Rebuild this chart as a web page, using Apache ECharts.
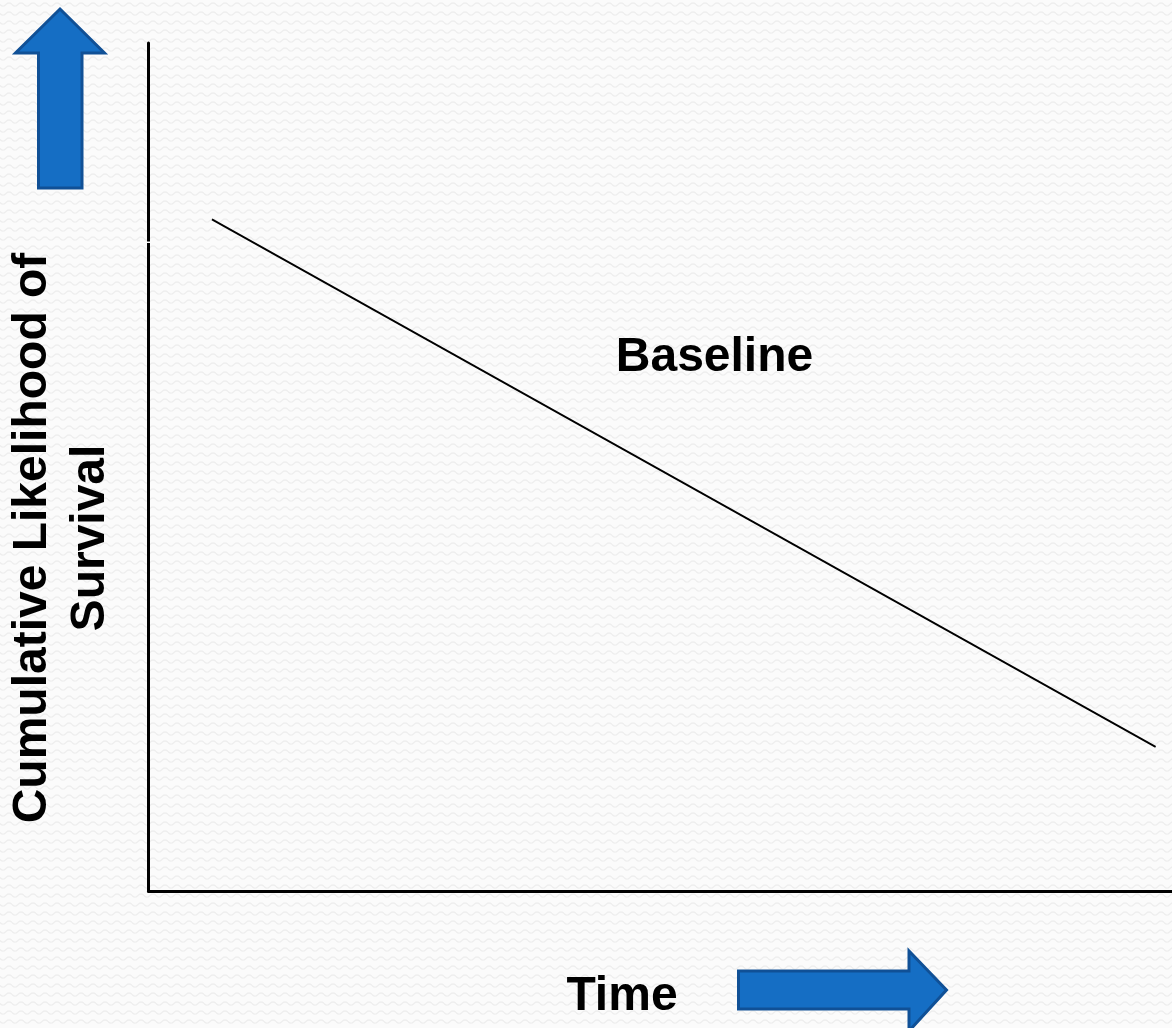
<!DOCTYPE html>
<html>
<head>
<meta charset="utf-8">
<title>Cumulative Likelihood of Survival</title>
<script src="https://cdn.jsdelivr.net/npm/echarts@6/dist/echarts.min.js"></script>
<style>
  html, body { margin: 0; padding: 0; background: #fafafa; }
  #chart { width: 1172px; height: 1028px; }
</style>
</head>
<body>
<div id="chart"></div>
<script>
// data: a straight baseline, start and end point only
var timeValues = [6.2, 98.4];
var survivalValues = [79.2, 17.0];
var seriesName = 'Baseline';
var xTitle = 'Time';
var yTitle = 'Cumulative Likelihood of\nSurvival';

var ARROW_FILL = '#156ec4';
var ARROW_EDGE = '#105096';
var FONT = 'bold 48px "Liberation Sans", Arial, sans-serif';

// light wavy paper texture for the background
function makeTexture() {
  var c = document.createElement('canvas');
  c.width = 12;
  c.height = 9;
  var ctx = c.getContext('2d');
  ctx.fillStyle = '#fbfbfb';
  ctx.fillRect(0, 0, 12, 9);
  ctx.strokeStyle = '#eeeeee';
  ctx.lineWidth = 1.4;
  ctx.beginPath();
  for (var i = 0; i <= 12; i++) {
    var y = 4.5 + 1.6 * Math.sin(i / 12 * Math.PI * 2);
    if (i === 0) ctx.moveTo(i, y); else ctx.lineTo(i, y);
  }
  ctx.stroke();
  return c;
}

var chart = echarts.init(document.getElementById('chart'));

chart.setOption({
  backgroundColor: { image: makeTexture(), repeat: 'repeat' },
  animation: false,
  grid: { left: 148.5, right: 0, top: 43, bottom: 137 },
  xAxis: {
    type: 'value',
    min: 0,
    max: 100,
    axisLine: { show: true, lineStyle: { color: '#000', width: 3 } },
    axisTick: { show: false },
    axisLabel: { show: false },
    splitLine: { show: false }
  },
  yAxis: {
    type: 'value',
    min: 0,
    max: 100,
    axisLine: { show: true, lineStyle: { color: '#000', width: 3 } },
    axisTick: { show: false },
    axisLabel: { show: false },
    splitLine: { show: false }
  },
  series: [
    {
      name: seriesName,
      type: 'line',
      data: timeValues.map(function (t, i) { return [t, survivalValues[i]]; }),
      symbol: 'none',
      lineStyle: { color: '#000', width: 1.8 }
    }
  ],
  graphic: [
    // small break in the y axis
    { type: 'rect', shape: { x: 145, y: 241.5, width: 7, height: 1.5 }, style: { fill: '#fbfbfb' }, z: 100 },
    // up arrow
    {
      type: 'polygon',
      shape: { points: [[60, 9], [104.5, 53], [82, 53], [82, 188], [38.5, 188], [38.5, 53], [15.5, 53]] },
      style: { fill: ARROW_FILL, stroke: ARROW_EDGE, lineWidth: 3, lineJoin: 'miter' }
    },
    // right arrow
    {
      type: 'polygon',
      shape: { points: [[738.5, 971], [909, 971], [909, 951], [946.5, 990], [909, 1031], [909, 1009], [738.5, 1009]] },
      style: { fill: ARROW_FILL, stroke: ARROW_EDGE, lineWidth: 3, lineJoin: 'miter' }
    },
    {
      type: 'text', x: 714.5, y: 358,
      style: { text: seriesName, font: FONT, fill: '#000', align: 'center', verticalAlign: 'middle' }
    },
    {
      type: 'text', x: 622, y: 997,
      style: { text: xTitle, font: FONT, fill: '#000', align: 'center', verticalAlign: 'middle' }
    },
    {
      type: 'text', x: 62, y: 538, rotation: Math.PI / 2,
      style: { text: yTitle, font: FONT, fill: '#000', align: 'center', verticalAlign: 'middle', lineHeight: 58 }
    }
  ]
});
</script>
</body>
</html>
